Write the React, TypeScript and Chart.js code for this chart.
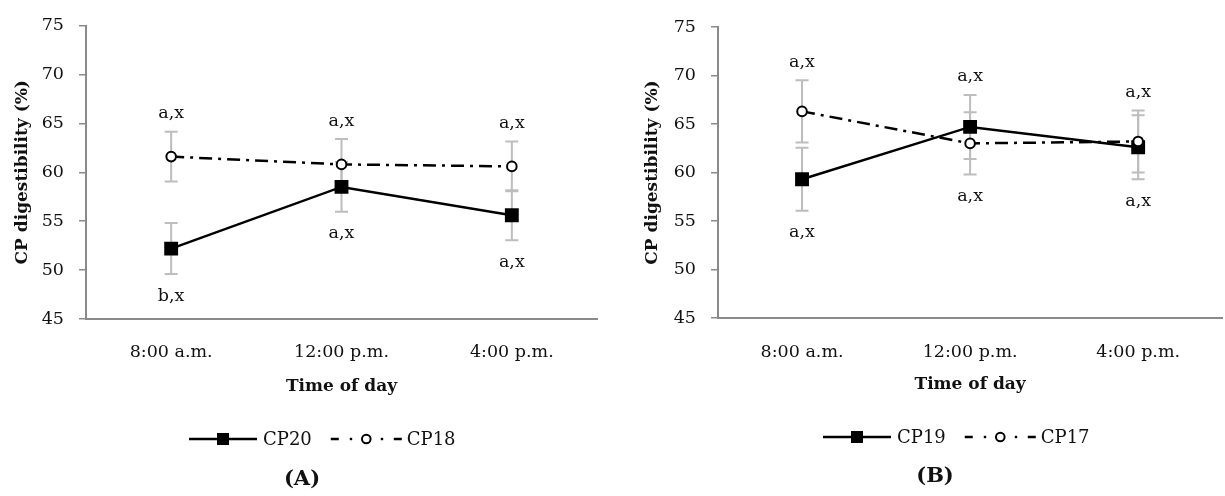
import React, { useEffect, useRef } from "react";
import { Chart, registerables } from "chart.js";

Chart.register(...registerables);

// ---------- data ----------
const categories = ["8:00 a.m.", "12:00 p.m.", "4:00 p.m."];
const yMin = 45;
const yMax = 75;
const yStep = 5;

// Panel A
const cp20Values = [52.2, 58.5, 55.6];
const cp20Errors = [2.6, 2.55, 2.55];
const cp18Values = [61.6, 60.8, 60.6];
const cp18Errors = [2.55, 2.6, 2.55];
const panelAUpperLabels = ["a,x", "a,x", "a,x"];
const panelALowerLabels = ["b,x", "a,x", "a,x"];

// Panel B
const cp19Values = [59.3, 64.7, 62.6];
const cp19Errors = [3.25, 3.3, 3.3];
const cp17Values = [66.3, 63.0, 63.2];
const cp17Errors = [3.2, 3.2, 3.2];
const panelBUpperLabels = ["a,x", "a,x", "a,x"];
const panelBLowerLabels = ["a,x", "a,x", "a,x"];

const yTitle = "CP digestibility (%)";
const xTitle = "Time of day";

// ---------- style ----------
const FONT = "'DejaVu Serif', 'Liberation Serif', serif";
const AXIS_GRAY = "#8a8a8a";
const ERR_GRAY = "#bdbdbd";
const TEXT = "#111111";
const DASH_DOT = [13, 6, 3, 6];

Chart.defaults.font.family = FONT;

type PanelCfg = {
  left: number;
  width: number;
  yAxisWidth: number;
  padRight: number;
  padTop: number;
  xAxisHeight: number;
  yTitlePad: number;
  xTickPad: number;
  xTitlePad: number;
  legendX: number;
  legendY: number;
  tagX: number;
  tagY: number;
  tag: string;
  solid: { label: string; values: number[]; errors: number[] };
  dashed: { label: string; values: number[]; errors: number[] };
  upper: string[];
  lower: string[];
};

const panels: PanelCfg[] = [
  {
    left: 0,
    width: 612,
    yAxisWidth: 86,
    padRight: 15,
    padTop: 22,
    xAxisHeight: 177,
    yTitlePad: 12,
    xTickPad: 23,
    xTitlePad: 99,
    legendX: 189,
    legendY: 439,
    tagX: 302,
    tagY: 480,
    tag: "(A)",
    solid: { label: "CP20", values: cp20Values, errors: cp20Errors },
    dashed: { label: "CP18", values: cp18Values, errors: cp18Errors },
    upper: panelAUpperLabels,
    lower: panelALowerLabels,
  },
  {
    left: 612,
    width: 620,
    yAxisWidth: 106,
    padRight: 3,
    padTop: 27,
    xAxisHeight: 178,
    yTitlePad: 30,
    xTickPad: 24,
    xTitlePad: 101,
    legendX: 211,
    legendY: 437,
    tagX: 323,
    tagY: 477,
    tag: "(B)",
    solid: { label: "CP19", values: cp19Values, errors: cp19Errors },
    dashed: { label: "CP17", values: cp17Values, errors: cp17Errors },
    upper: panelBUpperLabels,
    lower: panelBLowerLabels,
  },
];

const errorBarPlugin = {
  id: "errorBars",
  beforeDatasetsDraw(chart: any, _args: any, opts: any) {
    const ctx = chart.ctx;
    const y = chart.scales.y;
    const errs: number[][] = opts.errors || [];
    ctx.save();
    ctx.strokeStyle = ERR_GRAY;
    ctx.lineWidth = 2;
    chart.data.datasets.forEach((ds: any, i: number) => {
      const meta = chart.getDatasetMeta(i);
      meta.data.forEach((pt: any, j: number) => {
        const v = ds.data[j];
        const e = errs[i][j];
        const t = y.getPixelForValue(v + e);
        const b = y.getPixelForValue(v - e);
        ctx.beginPath();
        ctx.moveTo(pt.x, t);
        ctx.lineTo(pt.x, b);
        ctx.moveTo(pt.x - 6.5, t);
        ctx.lineTo(pt.x + 6.5, t);
        ctx.moveTo(pt.x - 6.5, b);
        ctx.lineTo(pt.x + 6.5, b);
        ctx.stroke();
      });
    });
    ctx.restore();
  },
  afterDatasetsDraw(chart: any, _args: any, opts: any) {
    const ctx = chart.ctx;
    const y = chart.scales.y;
    const x = chart.scales.x;
    const errs: number[][] = opts.errors || [];
    const upper: string[] = opts.upper || [];
    const lower: string[] = opts.lower || [];
    ctx.save();
    ctx.fillStyle = TEXT;
    ctx.font = `17.5px ${FONT}`;
    ctx.textAlign = "center";
    ctx.textBaseline = "middle";
    categories.forEach((_c, j) => {
      let top = Infinity;
      let bot = -Infinity;
      chart.data.datasets.forEach((ds: any, i: number) => {
        const v = ds.data[j];
        top = Math.min(top, y.getPixelForValue(v + errs[i][j]));
        bot = Math.max(bot, y.getPixelForValue(v - errs[i][j]));
      });
      const px = x.getPixelForValue(j);
      if (upper[j]) ctx.fillText(upper[j], px, top - 18);
      if (lower[j]) ctx.fillText(lower[j], px, bot + 22);
    });
    ctx.restore();
  },
};

const legendPlugin = {
  id: "customLegend",
  afterDraw(chart: any, _args: any, opts: any) {
    const ctx = chart.ctx;
    const y = opts.y;
    let x = opts.x;
    ctx.save();
    ctx.font = `18px ${FONT}`;
    ctx.textBaseline = "middle";
    ctx.textAlign = "left";
    ctx.fillStyle = TEXT;
    ctx.strokeStyle = "#000";
    // solid item
    ctx.lineWidth = 2.5;
    ctx.beginPath();
    ctx.moveTo(x, y);
    ctx.lineTo(x + 68, y);
    ctx.stroke();
    ctx.fillStyle = "#000";
    ctx.fillRect(x + 34 - 6, y - 6, 12, 12);
    ctx.fillStyle = TEXT;
    ctx.fillText(opts.solidLabel, x + 74, y + 1);
    x = x + 74 + ctx.measureText(opts.solidLabel).width + 19;
    // dash-dot item
    ctx.lineWidth = 2.5;
    ctx.beginPath();
    ctx.moveTo(x, y);
    ctx.lineTo(x + 8, y);
    ctx.moveTo(x + 63, y);
    ctx.lineTo(x + 71, y);
    ctx.stroke();
    ctx.fillStyle = "#000";
    ctx.fillRect(x + 19, y - 1.2, 2.4, 2.4);
    ctx.fillRect(x + 50, y - 1.2, 2.4, 2.4);
    ctx.beginPath();
    ctx.arc(x + 35.5, y, 4.3, 0, Math.PI * 2);
    ctx.fillStyle = "#fff";
    ctx.fill();
    ctx.lineWidth = 2;
    ctx.stroke();
    ctx.fillStyle = TEXT;
    ctx.fillText(opts.dashedLabel, x + 76, y + 1);
    // panel tag
    ctx.font = `bold 21px ${FONT}`;
    ctx.textAlign = "center";
    ctx.fillText(opts.tag, opts.tagX, opts.tagY);
    ctx.restore();
  },
};

function Panel({ cfg }: { cfg: PanelCfg }) {
  const ref = useRef<HTMLCanvasElement>(null);
  useEffect(() => {
    const canvas = ref.current;
    if (!canvas) return;
    const chart = new Chart(canvas, {
      type: "line",
      data: {
        labels: categories,
        datasets: [
          {
            label: cfg.solid.label,
            data: cfg.solid.values,
            borderColor: "#000",
            borderWidth: 2.5,
            pointStyle: "rect",
            pointRadius: 9.8,
            pointBackgroundColor: "#000",
            pointBorderColor: "#000",
            pointBorderWidth: 0,
            tension: 0,
            order: 1,
          },
          {
            label: cfg.dashed.label,
            data: cfg.dashed.values,
            borderColor: "#000",
            borderWidth: 2.5,
            borderDash: DASH_DOT,
            pointStyle: "circle",
            pointRadius: 4.8,
            pointBackgroundColor: "#fff",
            pointBorderColor: "#000",
            pointBorderWidth: 2,
            tension: 0,
            order: 0,
          },
        ],
      },
      options: {
        animation: false,
        responsive: false,
        devicePixelRatio: 1,
        layout: {
          padding: { left: 0, right: cfg.padRight, top: cfg.padTop, bottom: 0 },
        },
        plugins: {
          legend: { display: false },
          tooltip: { enabled: false },
          errorBars: {
            errors: [cfg.solid.errors, cfg.dashed.errors],
            upper: cfg.upper,
            lower: cfg.lower,
          },
          customLegend: {
            x: cfg.legendX,
            y: cfg.legendY,
            solidLabel: cfg.solid.label,
            dashedLabel: cfg.dashed.label,
            tag: cfg.tag,
            tagX: cfg.tagX,
            tagY: cfg.tagY,
          },
        } as any,
        scales: {
          x: {
            type: "category",
            offset: true,
            grid: { display: false, drawTicks: false },
            border: { display: true, color: AXIS_GRAY, width: 2 },
            ticks: {
              color: TEXT,
              font: { size: 17.5, family: FONT },
              padding: cfg.xTickPad,
              maxRotation: 0,
            },
            title: {
              display: true,
              text: xTitle,
              color: TEXT,
              font: { size: 17, weight: "bold", family: FONT },
              padding: { top: 0, bottom: cfg.xTitlePad },
            },
            afterFit: (scale: any) => {
              scale.height = cfg.xAxisHeight;
            },
          },
          y: {
            min: yMin,
            max: yMax,
            ticks: {
              stepSize: yStep,
              color: TEXT,
              font: { size: 17.5, family: FONT },
              padding: 15,
            },
            grid: {
              display: true,
              drawOnChartArea: false,
              drawTicks: true,
              tickLength: 7,
              color: AXIS_GRAY,
              lineWidth: 1.5,
            },
            border: { display: true, color: AXIS_GRAY, width: 2 },
            title: {
              display: true,
              text: yTitle,
              color: TEXT,
              font: { size: 17, weight: "bold", family: FONT },
              padding: { top: cfg.yTitlePad, bottom: 0 },
            },
            afterFit: (scale: any) => {
              scale.width = cfg.yAxisWidth;
            },
          },
        },
      } as any,
      plugins: [errorBarPlugin, legendPlugin],
    });
    return () => chart.destroy();
  }, [cfg]);
  return (
    <canvas
      ref={ref}
      width={cfg.width}
      height={496}
      style={{
        position: "absolute",
        left: cfg.left,
        top: 0,
        width: cfg.width,
        height: 496,
      }}
    />
  );
}

export default function App() {
  return (
    <div
      style={{
        position: "fixed",
        left: 0,
        top: 0,
        width: 1225,
        height: 496,
        overflow: "hidden",
        background: "#fff",
      }}
    >
      {panels.map((p) => (
        <Panel key={p.tag} cfg={p} />
      ))}
    </div>
  );
}
